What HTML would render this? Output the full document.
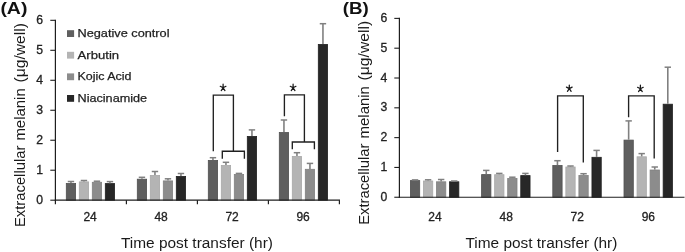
<!DOCTYPE html>
<html><head><meta charset="utf-8"><style>
html,body{margin:0;padding:0;background:#fff;width:685px;height:252px;overflow:hidden}
svg{display:block;filter:grayscale(1) blur(0.35px)}
text{font-family:"Liberation Sans", sans-serif}
</style></head><body>
<svg width="685" height="252" viewBox="0 0 685 252">
<rect x="66.30" y="183.50" width="9.30" height="16.70" fill="#5f5f5f" stroke="#515151" stroke-width="0.8"/>
<line x1="70.95" y1="181.50" x2="70.95" y2="183.10" stroke="#808080" stroke-width="1.6"/>
<line x1="67.75" y1="181.50" x2="74.15" y2="181.50" stroke="#808080" stroke-width="1.5"/>
<rect x="79.30" y="181.90" width="9.30" height="18.30" fill="#b4b4b4" stroke="#a9a9a9" stroke-width="0.8"/>
<line x1="83.95" y1="180.50" x2="83.95" y2="181.50" stroke="#808080" stroke-width="1.6"/>
<line x1="80.75" y1="180.50" x2="87.15" y2="180.50" stroke="#808080" stroke-width="1.5"/>
<rect x="92.30" y="182.30" width="9.30" height="17.90" fill="#8c8c8c" stroke="#818181" stroke-width="0.8"/>
<line x1="96.95" y1="181.20" x2="96.95" y2="181.90" stroke="#808080" stroke-width="1.6"/>
<line x1="93.75" y1="181.20" x2="100.15" y2="181.20" stroke="#808080" stroke-width="1.5"/>
<rect x="105.30" y="183.60" width="9.30" height="16.60" fill="#272727" stroke="#222222" stroke-width="0.8"/>
<line x1="109.95" y1="181.60" x2="109.95" y2="183.20" stroke="#808080" stroke-width="1.6"/>
<line x1="106.75" y1="181.60" x2="113.15" y2="181.60" stroke="#808080" stroke-width="1.5"/>
<rect x="137.30" y="179.20" width="9.30" height="21.00" fill="#5f5f5f" stroke="#515151" stroke-width="0.8"/>
<line x1="141.95" y1="177.30" x2="141.95" y2="178.80" stroke="#808080" stroke-width="1.6"/>
<line x1="138.75" y1="177.30" x2="145.15" y2="177.30" stroke="#808080" stroke-width="1.5"/>
<rect x="150.30" y="175.40" width="9.30" height="24.80" fill="#b4b4b4" stroke="#a9a9a9" stroke-width="0.8"/>
<line x1="154.95" y1="171.50" x2="154.95" y2="175.00" stroke="#808080" stroke-width="1.6"/>
<line x1="151.75" y1="171.50" x2="158.15" y2="171.50" stroke="#808080" stroke-width="1.5"/>
<rect x="163.30" y="180.90" width="9.30" height="19.30" fill="#8c8c8c" stroke="#818181" stroke-width="0.8"/>
<line x1="167.95" y1="178.80" x2="167.95" y2="180.50" stroke="#808080" stroke-width="1.6"/>
<line x1="164.75" y1="178.80" x2="171.15" y2="178.80" stroke="#808080" stroke-width="1.5"/>
<rect x="176.30" y="176.40" width="9.30" height="23.80" fill="#272727" stroke="#222222" stroke-width="0.8"/>
<line x1="180.95" y1="173.50" x2="180.95" y2="176.00" stroke="#808080" stroke-width="1.6"/>
<line x1="177.75" y1="173.50" x2="184.15" y2="173.50" stroke="#808080" stroke-width="1.5"/>
<rect x="208.30" y="160.40" width="9.30" height="39.80" fill="#5f5f5f" stroke="#515151" stroke-width="0.8"/>
<line x1="212.95" y1="157.70" x2="212.95" y2="160.00" stroke="#808080" stroke-width="1.6"/>
<line x1="209.75" y1="157.70" x2="216.15" y2="157.70" stroke="#808080" stroke-width="1.5"/>
<rect x="221.30" y="165.50" width="9.30" height="34.70" fill="#b4b4b4" stroke="#a9a9a9" stroke-width="0.8"/>
<line x1="225.95" y1="162.30" x2="225.95" y2="165.10" stroke="#808080" stroke-width="1.6"/>
<line x1="222.75" y1="162.30" x2="229.15" y2="162.30" stroke="#808080" stroke-width="1.5"/>
<rect x="234.30" y="174.40" width="9.30" height="25.80" fill="#8c8c8c" stroke="#818181" stroke-width="0.8"/>
<line x1="238.95" y1="173.40" x2="238.95" y2="174.00" stroke="#808080" stroke-width="1.6"/>
<line x1="235.75" y1="173.40" x2="242.15" y2="173.40" stroke="#808080" stroke-width="1.5"/>
<rect x="247.30" y="136.40" width="9.30" height="63.80" fill="#272727" stroke="#222222" stroke-width="0.8"/>
<line x1="251.95" y1="129.90" x2="251.95" y2="136.00" stroke="#808080" stroke-width="1.6"/>
<line x1="248.75" y1="129.90" x2="255.15" y2="129.90" stroke="#808080" stroke-width="1.5"/>
<rect x="279.30" y="132.50" width="9.30" height="67.70" fill="#5f5f5f" stroke="#515151" stroke-width="0.8"/>
<line x1="283.95" y1="120.00" x2="283.95" y2="132.10" stroke="#808080" stroke-width="1.6"/>
<line x1="280.75" y1="120.00" x2="287.15" y2="120.00" stroke="#808080" stroke-width="1.5"/>
<rect x="292.30" y="156.40" width="9.30" height="43.80" fill="#b4b4b4" stroke="#a9a9a9" stroke-width="0.8"/>
<line x1="296.95" y1="152.70" x2="296.95" y2="156.00" stroke="#808080" stroke-width="1.6"/>
<line x1="293.75" y1="152.70" x2="300.15" y2="152.70" stroke="#808080" stroke-width="1.5"/>
<rect x="305.30" y="169.30" width="9.30" height="30.90" fill="#8c8c8c" stroke="#818181" stroke-width="0.8"/>
<line x1="309.95" y1="163.40" x2="309.95" y2="168.90" stroke="#808080" stroke-width="1.6"/>
<line x1="306.75" y1="163.40" x2="313.15" y2="163.40" stroke="#808080" stroke-width="1.5"/>
<rect x="318.30" y="44.40" width="9.30" height="155.80" fill="#272727" stroke="#222222" stroke-width="0.8"/>
<line x1="322.95" y1="23.70" x2="322.95" y2="44.00" stroke="#808080" stroke-width="1.6"/>
<line x1="319.75" y1="23.70" x2="326.15" y2="23.70" stroke="#808080" stroke-width="1.5"/>
<line x1="55.40" y1="19.72" x2="55.40" y2="204.20" stroke="#1e1e1e" stroke-width="1.2"/>
<line x1="54.80" y1="200.20" x2="340.00" y2="200.20" stroke="#1e1e1e" stroke-width="1.2"/>
<line x1="50.30" y1="200.20" x2="55.40" y2="200.20" stroke="#1e1e1e" stroke-width="1.1"/>
<text x="43.00" y="203.80" font-size="12.2" text-anchor="end" font-weight="normal" fill="#222" stroke="#222" stroke-width="0.3">0</text>
<line x1="50.30" y1="170.22" x2="55.40" y2="170.22" stroke="#1e1e1e" stroke-width="1.1"/>
<text x="43.00" y="173.82" font-size="12.2" text-anchor="end" font-weight="normal" fill="#222" stroke="#222" stroke-width="0.3">1</text>
<line x1="50.30" y1="140.24" x2="55.40" y2="140.24" stroke="#1e1e1e" stroke-width="1.1"/>
<text x="43.00" y="143.84" font-size="12.2" text-anchor="end" font-weight="normal" fill="#222" stroke="#222" stroke-width="0.3">2</text>
<line x1="50.30" y1="110.26" x2="55.40" y2="110.26" stroke="#1e1e1e" stroke-width="1.1"/>
<text x="43.00" y="113.86" font-size="12.2" text-anchor="end" font-weight="normal" fill="#222" stroke="#222" stroke-width="0.3">3</text>
<line x1="50.30" y1="80.28" x2="55.40" y2="80.28" stroke="#1e1e1e" stroke-width="1.1"/>
<text x="43.00" y="83.88" font-size="12.2" text-anchor="end" font-weight="normal" fill="#222" stroke="#222" stroke-width="0.3">4</text>
<line x1="50.30" y1="50.30" x2="55.40" y2="50.30" stroke="#1e1e1e" stroke-width="1.1"/>
<text x="43.00" y="53.90" font-size="12.2" text-anchor="end" font-weight="normal" fill="#222" stroke="#222" stroke-width="0.3">5</text>
<line x1="50.30" y1="20.32" x2="55.40" y2="20.32" stroke="#1e1e1e" stroke-width="1.1"/>
<text x="43.00" y="23.92" font-size="12.2" text-anchor="end" font-weight="normal" fill="#222" stroke="#222" stroke-width="0.3">6</text>
<line x1="126.40" y1="200.20" x2="126.40" y2="204.20" stroke="#1e1e1e" stroke-width="1.2"/>
<line x1="197.40" y1="200.20" x2="197.40" y2="204.20" stroke="#1e1e1e" stroke-width="1.2"/>
<line x1="268.40" y1="200.20" x2="268.40" y2="204.20" stroke="#1e1e1e" stroke-width="1.2"/>
<line x1="339.40" y1="200.20" x2="339.40" y2="204.20" stroke="#1e1e1e" stroke-width="1.2"/>
<text x="90.10" y="221.10" font-size="12.0" text-anchor="middle" font-weight="normal" fill="#222" stroke="#222" stroke-width="0.3">24</text>
<text x="161.10" y="221.10" font-size="12.0" text-anchor="middle" font-weight="normal" fill="#222" stroke="#222" stroke-width="0.3">48</text>
<text x="232.10" y="221.10" font-size="12.0" text-anchor="middle" font-weight="normal" fill="#222" stroke="#222" stroke-width="0.3">72</text>
<text x="303.10" y="221.10" font-size="12.0" text-anchor="middle" font-weight="normal" fill="#222" stroke="#222" stroke-width="0.3">96</text>
<text x="196.95" y="248.00" font-size="15.5" text-anchor="middle" font-weight="normal" fill="#1a1a1a" textLength="152" lengthAdjust="spacingAndGlyphs">Time post transfer (hr)</text>
<text transform="translate(24.60,0) rotate(-90)" x="-227.00" y="0" font-size="15" fill="#1a1a1a" textLength="81.30" lengthAdjust="spacingAndGlyphs">Extracellular</text>
<text transform="translate(24.60,0) rotate(-90)" x="-140.60" y="0" font-size="15" fill="#1a1a1a" textLength="52.30" lengthAdjust="spacingAndGlyphs">melanin</text>
<text transform="translate(24.60,0) rotate(-90)" x="-82.60" y="0" font-size="15" fill="#1a1a1a" textLength="59.60" lengthAdjust="spacingAndGlyphs">(&#956;g/well)</text>
<text x="0.40" y="13.70" font-size="17.0" text-anchor="start" font-weight="bold" fill="#111" textLength="27.0" lengthAdjust="spacingAndGlyphs">(A)</text>
<rect x="410.40" y="180.60" width="9.30" height="16.65" fill="#5f5f5f" stroke="#515151" stroke-width="0.8"/>
<line x1="415.05" y1="179.90" x2="415.05" y2="180.20" stroke="#808080" stroke-width="1.6"/>
<line x1="411.85" y1="179.90" x2="418.25" y2="179.90" stroke="#808080" stroke-width="1.5"/>
<rect x="423.45" y="181.00" width="9.30" height="16.25" fill="#b4b4b4" stroke="#a9a9a9" stroke-width="0.8"/>
<line x1="428.10" y1="179.80" x2="428.10" y2="180.60" stroke="#808080" stroke-width="1.6"/>
<line x1="424.90" y1="179.80" x2="431.30" y2="179.80" stroke="#808080" stroke-width="1.5"/>
<rect x="436.50" y="181.80" width="9.30" height="15.45" fill="#8c8c8c" stroke="#818181" stroke-width="0.8"/>
<line x1="441.15" y1="179.50" x2="441.15" y2="181.40" stroke="#808080" stroke-width="1.6"/>
<line x1="437.95" y1="179.50" x2="444.35" y2="179.50" stroke="#808080" stroke-width="1.5"/>
<rect x="449.55" y="181.80" width="9.30" height="15.45" fill="#272727" stroke="#222222" stroke-width="0.8"/>
<line x1="454.20" y1="181.00" x2="454.20" y2="181.40" stroke="#808080" stroke-width="1.6"/>
<line x1="451.00" y1="181.00" x2="457.40" y2="181.00" stroke="#808080" stroke-width="1.5"/>
<rect x="481.60" y="174.60" width="9.30" height="22.65" fill="#5f5f5f" stroke="#515151" stroke-width="0.8"/>
<line x1="486.25" y1="170.40" x2="486.25" y2="174.20" stroke="#808080" stroke-width="1.6"/>
<line x1="483.05" y1="170.40" x2="489.45" y2="170.40" stroke="#808080" stroke-width="1.5"/>
<rect x="494.65" y="174.70" width="9.30" height="22.55" fill="#b4b4b4" stroke="#a9a9a9" stroke-width="0.8"/>
<line x1="499.30" y1="173.40" x2="499.30" y2="174.30" stroke="#808080" stroke-width="1.6"/>
<line x1="496.10" y1="173.40" x2="502.50" y2="173.40" stroke="#808080" stroke-width="1.5"/>
<rect x="507.70" y="178.50" width="9.30" height="18.75" fill="#8c8c8c" stroke="#818181" stroke-width="0.8"/>
<line x1="512.35" y1="177.20" x2="512.35" y2="178.10" stroke="#808080" stroke-width="1.6"/>
<line x1="509.15" y1="177.20" x2="515.55" y2="177.20" stroke="#808080" stroke-width="1.5"/>
<rect x="520.75" y="175.60" width="9.30" height="21.65" fill="#272727" stroke="#222222" stroke-width="0.8"/>
<line x1="525.40" y1="173.40" x2="525.40" y2="175.20" stroke="#808080" stroke-width="1.6"/>
<line x1="522.20" y1="173.40" x2="528.60" y2="173.40" stroke="#808080" stroke-width="1.5"/>
<rect x="552.80" y="165.50" width="9.30" height="31.75" fill="#5f5f5f" stroke="#515151" stroke-width="0.8"/>
<line x1="557.45" y1="160.70" x2="557.45" y2="165.10" stroke="#808080" stroke-width="1.6"/>
<line x1="554.25" y1="160.70" x2="560.65" y2="160.70" stroke="#808080" stroke-width="1.5"/>
<rect x="565.85" y="167.00" width="9.30" height="30.25" fill="#b4b4b4" stroke="#a9a9a9" stroke-width="0.8"/>
<line x1="570.50" y1="166.00" x2="570.50" y2="166.60" stroke="#808080" stroke-width="1.6"/>
<line x1="567.30" y1="166.00" x2="573.70" y2="166.00" stroke="#808080" stroke-width="1.5"/>
<rect x="578.90" y="175.50" width="9.30" height="21.75" fill="#8c8c8c" stroke="#818181" stroke-width="0.8"/>
<line x1="583.55" y1="173.70" x2="583.55" y2="175.10" stroke="#808080" stroke-width="1.6"/>
<line x1="580.35" y1="173.70" x2="586.75" y2="173.70" stroke="#808080" stroke-width="1.5"/>
<rect x="591.95" y="157.30" width="9.30" height="39.95" fill="#272727" stroke="#222222" stroke-width="0.8"/>
<line x1="596.60" y1="150.40" x2="596.60" y2="156.90" stroke="#808080" stroke-width="1.6"/>
<line x1="593.40" y1="150.40" x2="599.80" y2="150.40" stroke="#808080" stroke-width="1.5"/>
<rect x="624.00" y="140.10" width="9.30" height="57.15" fill="#5f5f5f" stroke="#515151" stroke-width="0.8"/>
<line x1="628.65" y1="120.90" x2="628.65" y2="139.70" stroke="#808080" stroke-width="1.6"/>
<line x1="625.45" y1="120.90" x2="631.85" y2="120.90" stroke="#808080" stroke-width="1.5"/>
<rect x="637.05" y="156.80" width="9.30" height="40.45" fill="#b4b4b4" stroke="#a9a9a9" stroke-width="0.8"/>
<line x1="641.70" y1="153.60" x2="641.70" y2="156.40" stroke="#808080" stroke-width="1.6"/>
<line x1="638.50" y1="153.60" x2="644.90" y2="153.60" stroke="#808080" stroke-width="1.5"/>
<rect x="650.10" y="170.00" width="9.30" height="27.25" fill="#8c8c8c" stroke="#818181" stroke-width="0.8"/>
<line x1="654.75" y1="167.00" x2="654.75" y2="169.60" stroke="#808080" stroke-width="1.6"/>
<line x1="651.55" y1="167.00" x2="657.95" y2="167.00" stroke="#808080" stroke-width="1.5"/>
<rect x="663.15" y="104.20" width="9.30" height="93.05" fill="#272727" stroke="#222222" stroke-width="0.8"/>
<line x1="667.80" y1="67.20" x2="667.80" y2="103.80" stroke="#808080" stroke-width="1.6"/>
<line x1="664.60" y1="67.20" x2="671.00" y2="67.20" stroke="#808080" stroke-width="1.5"/>
<line x1="399.40" y1="17.79" x2="399.40" y2="197.85" stroke="#1e1e1e" stroke-width="1.2"/>
<line x1="398.80" y1="197.25" x2="684.50" y2="197.25" stroke="#1e1e1e" stroke-width="1.2"/>
<line x1="394.30" y1="197.25" x2="399.40" y2="197.25" stroke="#1e1e1e" stroke-width="1.1"/>
<text x="387.20" y="200.85" font-size="12.2" text-anchor="end" font-weight="normal" fill="#222" stroke="#222" stroke-width="0.3">0</text>
<line x1="394.30" y1="167.44" x2="399.40" y2="167.44" stroke="#1e1e1e" stroke-width="1.1"/>
<text x="387.20" y="171.04" font-size="12.2" text-anchor="end" font-weight="normal" fill="#222" stroke="#222" stroke-width="0.3">1</text>
<line x1="394.30" y1="137.63" x2="399.40" y2="137.63" stroke="#1e1e1e" stroke-width="1.1"/>
<text x="387.20" y="141.23" font-size="12.2" text-anchor="end" font-weight="normal" fill="#222" stroke="#222" stroke-width="0.3">2</text>
<line x1="394.30" y1="107.82" x2="399.40" y2="107.82" stroke="#1e1e1e" stroke-width="1.1"/>
<text x="387.20" y="111.42" font-size="12.2" text-anchor="end" font-weight="normal" fill="#222" stroke="#222" stroke-width="0.3">3</text>
<line x1="394.30" y1="78.01" x2="399.40" y2="78.01" stroke="#1e1e1e" stroke-width="1.1"/>
<text x="387.20" y="81.61" font-size="12.2" text-anchor="end" font-weight="normal" fill="#222" stroke="#222" stroke-width="0.3">4</text>
<line x1="394.30" y1="48.20" x2="399.40" y2="48.20" stroke="#1e1e1e" stroke-width="1.1"/>
<text x="387.20" y="51.80" font-size="12.2" text-anchor="end" font-weight="normal" fill="#222" stroke="#222" stroke-width="0.3">5</text>
<line x1="394.30" y1="18.39" x2="399.40" y2="18.39" stroke="#1e1e1e" stroke-width="1.1"/>
<text x="387.20" y="21.99" font-size="12.2" text-anchor="end" font-weight="normal" fill="#222" stroke="#222" stroke-width="0.3">6</text>
<text x="435.05" y="221.10" font-size="12.0" text-anchor="middle" font-weight="normal" fill="#222" stroke="#222" stroke-width="0.3">24</text>
<text x="506.15" y="221.10" font-size="12.0" text-anchor="middle" font-weight="normal" fill="#222" stroke="#222" stroke-width="0.3">48</text>
<text x="577.25" y="221.10" font-size="12.0" text-anchor="middle" font-weight="normal" fill="#222" stroke="#222" stroke-width="0.3">72</text>
<text x="648.35" y="221.10" font-size="12.0" text-anchor="middle" font-weight="normal" fill="#222" stroke="#222" stroke-width="0.3">96</text>
<text x="541.40" y="248.00" font-size="15.5" text-anchor="middle" font-weight="normal" fill="#1a1a1a" textLength="152" lengthAdjust="spacingAndGlyphs">Time post transfer (hr)</text>
<text transform="translate(368.60,0) rotate(-90)" x="-224.85" y="0" font-size="15" fill="#1a1a1a" textLength="81.30" lengthAdjust="spacingAndGlyphs">Extracellular</text>
<text transform="translate(368.60,0) rotate(-90)" x="-138.45" y="0" font-size="15" fill="#1a1a1a" textLength="52.30" lengthAdjust="spacingAndGlyphs">melanin</text>
<text transform="translate(368.60,0) rotate(-90)" x="-80.45" y="0" font-size="15" fill="#1a1a1a" textLength="59.60" lengthAdjust="spacingAndGlyphs">(&#956;g/well)</text>
<text x="342.80" y="13.70" font-size="17.0" text-anchor="start" font-weight="bold" fill="#111" textLength="26.0" lengthAdjust="spacingAndGlyphs">(B)</text>
<polyline points="213.30,151.20 213.30,95.10 233.40,95.10 233.40,151.20" fill="none" stroke="#202020" stroke-width="1.35"/>
<polyline points="222.30,158.80 222.30,151.20 244.40,151.20 244.40,158.80" fill="none" stroke="#202020" stroke-width="1.35"/>
<path d="M223.10,87.80L223.10,84.20M223.10,87.80L225.93,86.30M223.10,87.80L220.27,86.30M223.10,87.80L224.95,90.54M223.10,87.80L221.25,90.54" stroke="#1a1a1a" stroke-width="1.25" stroke-linecap="round" fill="none"/>
<polyline points="284.40,116.20 284.40,94.90 304.40,94.90 304.40,142.00" fill="none" stroke="#202020" stroke-width="1.35"/>
<polyline points="292.30,149.20 292.30,142.00 314.40,142.00 314.40,149.20" fill="none" stroke="#202020" stroke-width="1.35"/>
<path d="M293.10,87.80L293.10,84.20M293.10,87.80L295.93,86.30M293.10,87.80L290.27,86.30M293.10,87.80L294.95,90.54M293.10,87.80L291.25,90.54" stroke="#1a1a1a" stroke-width="1.25" stroke-linecap="round" fill="none"/>
<polyline points="557.60,151.90 557.60,95.90 583.30,95.90 583.30,162.60" fill="none" stroke="#202020" stroke-width="1.35"/>
<path d="M569.30,88.60L569.30,85.00M569.30,88.60L572.13,87.10M569.30,88.60L566.47,87.10M569.30,88.60L571.15,91.34M569.30,88.60L567.45,91.34" stroke="#1a1a1a" stroke-width="1.25" stroke-linecap="round" fill="none"/>
<polyline points="628.60,117.30 628.60,95.90 654.20,95.90 654.20,158.60" fill="none" stroke="#202020" stroke-width="1.35"/>
<path d="M640.40,88.80L640.40,85.20M640.40,88.80L643.23,87.30M640.40,88.80L637.57,87.30M640.40,88.80L642.25,91.54M640.40,88.80L638.55,91.54" stroke="#1a1a1a" stroke-width="1.25" stroke-linecap="round" fill="none"/>
<rect x="67.00" y="30.20" width="7.10" height="6.80" fill="#5f5f5f"/>
<text x="77.50" y="36.90" font-size="11.6" text-anchor="start" font-weight="normal" fill="#222" textLength="92.0" lengthAdjust="spacingAndGlyphs" stroke="#222" stroke-width="0.25">Negative control</text>
<rect x="67.00" y="51.80" width="7.10" height="6.80" fill="#b4b4b4"/>
<text x="77.50" y="58.50" font-size="11.6" text-anchor="start" font-weight="normal" fill="#222" textLength="41.6" lengthAdjust="spacingAndGlyphs" stroke="#222" stroke-width="0.25">Arbutin</text>
<rect x="67.00" y="73.40" width="7.10" height="6.80" fill="#8c8c8c"/>
<text x="77.50" y="80.10" font-size="11.6" text-anchor="start" font-weight="normal" fill="#222" textLength="54.0" lengthAdjust="spacingAndGlyphs" stroke="#222" stroke-width="0.25">Kojic Acid</text>
<rect x="67.00" y="95.00" width="7.10" height="6.80" fill="#272727"/>
<text x="77.50" y="101.70" font-size="11.6" text-anchor="start" font-weight="normal" fill="#222" textLength="69.6" lengthAdjust="spacingAndGlyphs" stroke="#222" stroke-width="0.25">Niacinamide</text>
</svg>
</body></html>
